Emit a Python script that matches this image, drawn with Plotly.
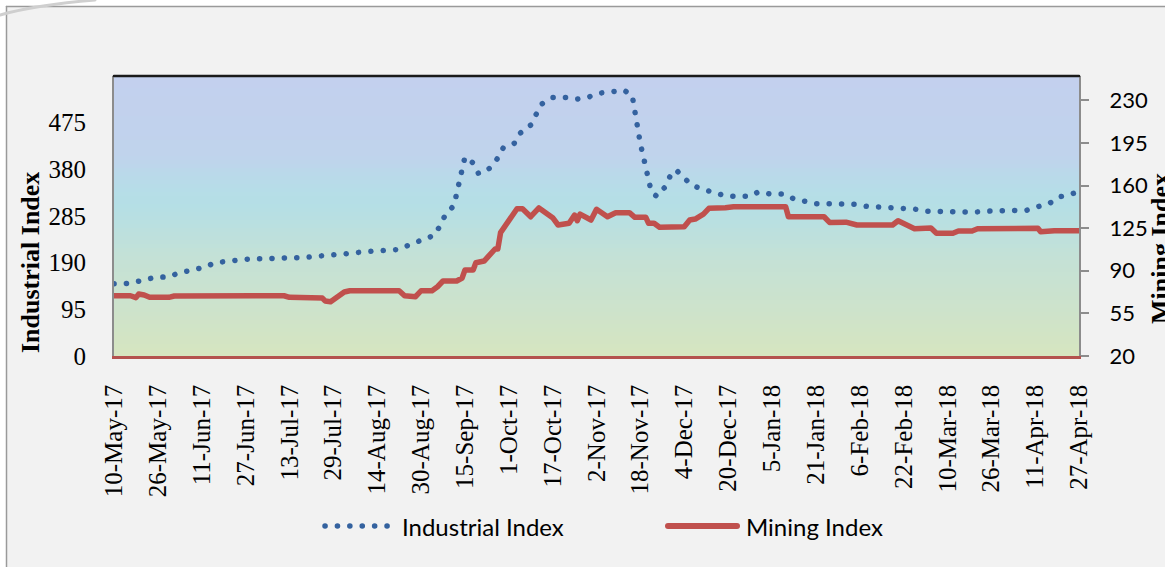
import plotly.graph_objects as go
import pandas as pd

# ---------------- data ----------------
industrial_dates = [
    "2017-05-10", "2017-05-12", "2017-05-16", "2017-05-21", "2017-05-25", "2017-05-30",
    "2017-06-03", "2017-06-07", "2017-06-12", "2017-06-16", "2017-06-20", "2017-06-25",
    "2017-06-29", "2017-07-04", "2017-07-08", "2017-07-13", "2017-07-17", "2017-07-22",
    "2017-07-26", "2017-07-31", "2017-08-04", "2017-08-09", "2017-08-13", "2017-08-18",
    "2017-08-22", "2017-08-26", "2017-08-30", "2017-09-04", "2017-09-06", "2017-09-08",
    "2017-09-11", "2017-09-12", "2017-09-13", "2017-09-14", "2017-09-15", "2017-09-18",
    "2017-09-20", "2017-09-24", "2017-09-27", "2017-09-29", "2017-10-03", "2017-10-05",
    "2017-10-09", "2017-10-11", "2017-10-13", "2017-10-17", "2017-10-22", "2017-10-26",
    "2017-10-30", "2017-11-03", "2017-11-08", "2017-11-12", "2017-11-15", "2017-11-16",
    "2017-11-17", "2017-11-18", "2017-11-19", "2017-11-20", "2017-11-21", "2017-11-22",
    "2017-11-24", "2017-11-27", "2017-11-29", "2017-12-01", "2017-12-04", "2017-12-07",
    "2017-12-11", "2017-12-15", "2017-12-19", "2017-12-24", "2017-12-28", "2017-12-31",
    "2018-01-04", "2018-01-09", "2018-01-13", "2018-01-17", "2018-01-21", "2018-01-26",
    "2018-01-30", "2018-02-04", "2018-02-08", "2018-02-13", "2018-02-17", "2018-02-22",
    "2018-02-26", "2018-03-02", "2018-03-07", "2018-03-11", "2018-03-16", "2018-03-20",
    "2018-03-25", "2018-03-29", "2018-04-03", "2018-04-08", "2018-04-12", "2018-04-16",
    "2018-04-20", "2018-04-24", "2018-04-27",
]
industrial_values = [
    147, 148, 148, 155, 160, 161,
    170, 174, 181, 190, 193, 194,
    198, 198, 200, 200, 200, 202,
    204, 206, 209, 212, 213, 215,
    217, 227, 236, 246, 266, 289,
    306, 330, 356, 380, 405, 393,
    371, 382, 403, 424, 433, 453,
    470, 492, 513, 526, 526, 523,
    527, 535, 539, 541, 531, 495,
    456, 432, 408, 383, 358, 334,
    325, 344, 368, 379, 362, 347,
    339, 333, 326, 325, 325, 334,
    330, 330, 320, 315, 310, 310,
    310, 309, 305, 304, 301, 301,
    299, 295, 294, 293, 292, 293,
    295, 295, 295, 297, 304, 310,
    324, 330, 334,
]

mining_dates = [
    "2017-05-10", "2017-05-16", "2017-05-18", "2017-05-19", "2017-05-21", "2017-05-23",
    "2017-05-30", "2017-06-01", "2017-07-11", "2017-07-13", "2017-07-25", "2017-07-26",
    "2017-07-28", "2017-07-31", "2017-08-02", "2017-08-04", "2017-08-22", "2017-08-24",
    "2017-08-28", "2017-08-30", "2017-09-03", "2017-09-05", "2017-09-07", "2017-09-12",
    "2017-09-14", "2017-09-15", "2017-09-18", "2017-09-19", "2017-09-22", "2017-09-26",
    "2017-09-27", "2017-09-28", "2017-09-29", "2017-10-01", "2017-10-03", "2017-10-04",
    "2017-10-06", "2017-10-09", "2017-10-12", "2017-10-16", "2017-10-17", "2017-10-19",
    "2017-10-23", "2017-10-25", "2017-10-26", "2017-10-27", "2017-10-31", "2017-11-02",
    "2017-11-06", "2017-11-09", "2017-11-14", "2017-11-16", "2017-11-20", "2017-11-21",
    "2017-11-23", "2017-11-25", "2017-12-04", "2017-12-06", "2017-12-08", "2017-12-11",
    "2017-12-13", "2017-12-19", "2017-12-22", "2018-01-10", "2018-01-11", "2018-01-24",
    "2018-01-26", "2018-02-01", "2018-02-05", "2018-02-18", "2018-02-20", "2018-02-26",
    "2018-03-04", "2018-03-06", "2018-03-12", "2018-03-14", "2018-03-19", "2018-03-21",
    "2018-04-12", "2018-04-13", "2018-04-18", "2018-04-27",
]
mining_values = [
    69.5, 69.5, 67.9, 70.9, 70.1, 68.2,
    68.2, 69.3, 69.5, 68.2, 67.6, 65.2,
    64.6, 68.7, 72.6, 73.6, 73.6, 69.5,
    68.7, 73.6, 73.6, 76.9, 81.6, 81.6,
    84.1, 90.6, 90.6, 96.6, 98.0, 107.9,
    107.9, 121.3, 124.9, 130.3, 139.4, 141.0,
    141.0, 134.4, 141.6, 134.4, 133.6, 127.6,
    129.0, 135.8, 131.1, 136.6, 131.7, 140.5,
    134.4, 137.7, 137.7, 133.9, 133.9, 129.0,
    129.0, 125.7, 126.2, 131.7, 132.5, 136.6,
    141.3, 141.8, 142.6, 142.6, 134.4, 134.4,
    129.7, 129.9, 127.6, 127.6, 131.1, 124.6,
    125.1, 120.8, 120.8, 122.7, 122.7, 124.6,
    124.9, 122.1, 122.9, 122.9,
]

x_tick_labels = [
    "10-May-17", "26-May-17", "11-Jun-17", "27-Jun-17", "13-Jul-17", "29-Jul-17",
    "14-Aug-17", "30-Aug-17", "15-Sep-17", "1-Oct-17", "17-Oct-17", "2-Nov-17",
    "18-Nov-17", "4-Dec-17", "20-Dec-17", "5-Jan-18", "21-Jan-18", "6-Feb-18",
    "22-Feb-18", "10-Mar-18", "26-Mar-18", "11-Apr-18", "27-Apr-18",
]
left_ticks = [0, 95, 190, 285, 380, 475]
right_ticks = [20, 55, 90, 125, 160, 195, 230]
left_range = [0, 570]
right_range = [20, 250]

series_names = ["Industrial Index", "Mining Index"]

# ---------------- styling ----------------
W, H = 1165, 567
PL, PR, PT, PB = 114, 1079, 76, 356   # plot area in pixels
def px(x):
    return (x - PL) / (PR - PL)
def py(y):
    return (PB - y) / (PB - PT)

BLUE = "#34629F"
RED = "#C0504D"
SERIF = "Liberation Serif, Times New Roman, serif"
SANS = "Lato, Carlito, Calibri, sans-serif"

x_tick_vals = pd.to_datetime(x_tick_labels, format="%d-%b-%y")

fig = go.Figure()
fig.add_trace(go.Scatter(
    x=pd.to_datetime(industrial_dates), y=industrial_values, name=series_names[0],
    mode="lines", line=dict(color=BLUE, width=5.5, dash="0.1px,12.3px"),
    showlegend=False, yaxis="y",
))
fig.add_trace(go.Scatter(
    x=pd.to_datetime(mining_dates), y=mining_values, name=series_names[1],
    mode="lines", line=dict(color=RED, width=5.5),
    showlegend=False, yaxis="y2",
))

# gradient plot background as thin bands
stops = [
    (0.00, (0xD6, 0xE5, 0xC0)),
    (0.15, (0xCE, 0xE3, 0xCA)),
    (0.35, (0xC4, 0xE1, 0xD6)),
    (0.53, (0xB5, 0xDF, 0xE5)),
    (0.60, (0xB6, 0xDD, 0xE8)),
    (0.72, (0xC0, 0xD3, 0xEC)),
    (1.00, (0xC3, 0xD0, 0xEE)),
]
def grad(t):
    for (a, ca), (b, cb) in zip(stops[:-1], stops[1:]):
        if a <= t <= b:
            f = (t - a) / (b - a)
            return "rgb(%d,%d,%d)" % tuple(round(ca[i] + (cb[i] - ca[i]) * f) for i in range(3))
    return "rgb(%d,%d,%d)" % stops[-1][1]

shapes = []
# white strips outside the outer frame
shapes.append(dict(type="rect", xref="paper", yref="paper", x0=px(-5), x1=px(6.5),
                   y0=py(600), y1=py(-5), fillcolor="#FFFFFF", line=dict(width=0), layer="below"))
shapes.append(dict(type="rect", xref="paper", yref="paper", x0=px(-5), x1=px(1200),
                   y0=py(6.5), y1=py(-5), fillcolor="#FFFFFF", line=dict(width=0), layer="below"))
N = 70
for i in range(N):
    y0 = i / N
    y1 = min(1, (i + 1) / N + 0.004)
    shapes.append(dict(type="rect", xref="paper", yref="paper", x0=0, x1=1, y0=y0, y1=y1,
                       fillcolor=grad((i + 0.5) / N), line=dict(width=0), layer="below"))

# plot border: top black line
shapes.append(dict(type="line", xref="paper", yref="paper", x0=0, x1=1, y0=1, y1=1,
                   line=dict(color="#1a1a1a", width=2.5)))
# outer frame (left and top edges)
shapes.append(dict(type="line", xref="paper", yref="paper", x0=px(6.5), x1=px(1200),
                   y0=py(6.5), y1=py(6.5), line=dict(color="#9a9a9a", width=1.5)))
shapes.append(dict(type="line", xref="paper", yref="paper", x0=px(6.5), x1=px(6.5),
                   y0=py(6.5), y1=py(600), line=dict(color="#9a9a9a", width=1.5)))
# page-curl swoosh top-left
shapes.append(dict(type="path", xref="paper", yref="paper",
                   path="M %f,%f Q %f,%f %f,%f" % (px(0), py(15), px(35), py(5), px(95), py(0)),
                   line=dict(color="#cfcfcf", width=3)))

# manual legend symbols
LEG_Y = py(526)
shapes.append(dict(type="line", xref="paper", yref="paper", x0=px(325), x1=px(390),
                   y0=LEG_Y, y1=LEG_Y, line=dict(color=BLUE, width=5.5, dash="0.1px,12.3px")))
shapes.append(dict(type="line", xref="paper", yref="paper", x0=px(668), x1=px(737),
                   y0=LEG_Y, y1=LEG_Y, line=dict(color=RED, width=6)))

annotations = [
    dict(text=series_names[0], xref="paper", yref="paper", x=px(400), y=LEG_Y,
         xanchor="left", yanchor="middle", showarrow=False,
         font=dict(family=SANS, size=24, color="#000")),
    dict(text=series_names[1], xref="paper", yref="paper", x=px(744), y=LEG_Y,
         xanchor="left", yanchor="middle", showarrow=False,
         font=dict(family=SANS, size=24, color="#000")),
    dict(text="<b>Industrial Index</b>", xref="paper", yref="paper", x=px(30), y=py(263),
         xanchor="center", yanchor="middle", textangle=-90, showarrow=False,
         font=dict(family=SERIF, size=26, color="#000")),
    dict(text="<b>Mining Index</b>", xref="paper", yref="paper", x=px(1160), y=py(249),
         xanchor="center", yanchor="middle", textangle=-90, showarrow=False,
         font=dict(family=SERIF, size=26, color="#000")),
]

fig.update_layout(
    width=W, height=H, autosize=False,
    margin=dict(l=PL, r=W - PR, t=PT, b=H - PB, pad=0),
    paper_bgcolor="#F2F2F2", plot_bgcolor="#C8D8E8",
    showlegend=False,
    shapes=shapes, annotations=annotations,
    xaxis=dict(
        type="date", range=[x_tick_vals[0], x_tick_vals[-1]],
        tickvals=x_tick_vals, ticktext=x_tick_labels, tickangle=-90,
        tickfont=dict(family=SERIF, size=25, color="#000"),
        showgrid=False, zeroline=False, ticks="", ticklabelstandoff=16,
        showline=True, linecolor="#B4524E", linewidth=2.5, automargin=False,
    ),
    yaxis=dict(
        range=left_range, tickvals=left_ticks, tickfont=dict(family=SERIF, size=25, color="#000"),
        showgrid=False, zeroline=False, ticks="", ticklabelstandoff=21,
        showline=True, linecolor="#8C8C8C", linewidth=2, automargin=False,
    ),
    yaxis2=dict(
        range=right_range, tickvals=right_ticks, overlaying="y", side="right",
        tickfont=dict(family=SANS, size=22, color="#000"),
        showgrid=False, zeroline=False, ticks="outside", ticklen=8, tickwidth=2,
        tickcolor="#8C8C8C", ticklabelstandoff=16,
        showline=True, linecolor="#8C8C8C", linewidth=2, automargin=False,
    ),
)

post = """
document.documentElement.style.margin = '0';
document.body.style.margin = '0';
document.body.style.padding = '0';
document.body.style.overflow = 'hidden';
var gd = document.getElementById('{plot_id}');
function rc(){
  document.querySelectorAll('.js-line, .shapelayer path').forEach(function(p){
    p.style.strokeLinecap = 'round';
    p.style.strokeLinejoin = 'round';
  });
}
rc(); setTimeout(rc, 20); setTimeout(rc, 200);
if (gd && gd.on) { gd.on('plotly_afterplot', rc); }
"""

fig.write_html("out.html", post_script=post, config={"displayModeBar": False})
